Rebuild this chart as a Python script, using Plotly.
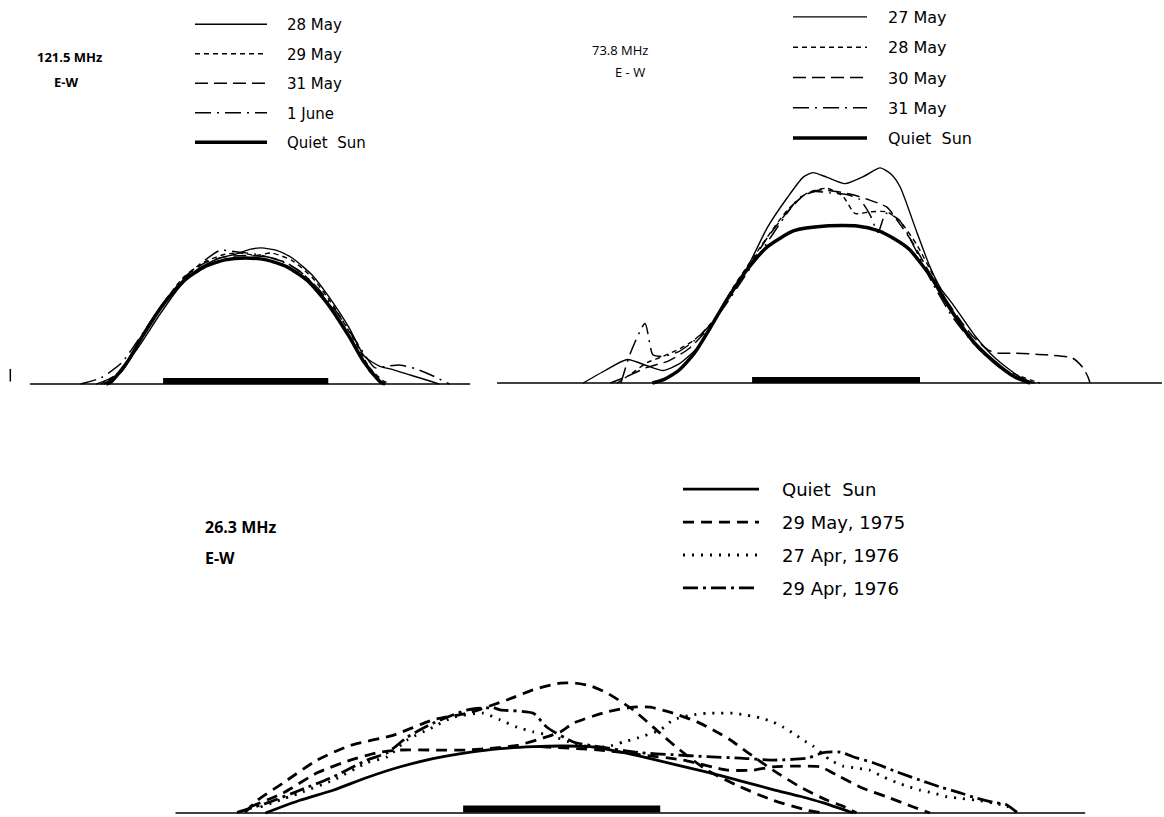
import plotly.graph_objects as go

# ---------------- Panel 1 : 121.5 MHz E-W (x: arcmin from centre, y: relative brightness) -------------
p1_qs_x = [-27, -26, -23, -20, -16, -12, -8, -4, 0, 4, 8, 12, 16, 20, 23, 26, 27]
p1_qs_y = [0, 0.02, 0.17, 0.38, 0.63, 0.82, 0.93, 0.985, 1.0, 0.985, 0.93, 0.82, 0.63, 0.38, 0.17, 0.02, 0]
p1_28may_x = [-29, -25, -21, -17, -13, -9, -5, -2, 1, 3, 6, 9, 13, 16, 20, 23, 26, 28, 32, 36, 37.5]
p1_28may_y = [0, 0.07, 0.28, 0.53, 0.76, 0.92, 1.0, 1.03, 1.07, 1.08, 1.06, 1.0, 0.86, 0.7, 0.45, 0.22, 0.14, 0.12, 0.07, 0.02, 0]
p1_29may_x = [-28, -24, -20, -16, -12, -8, -4, -1, 2, 5, 9, 13, 17, 21, 24, 26.5, 28]
p1_29may_y = [0, 0.11, 0.38, 0.64, 0.85, 0.97, 1.03, 1.04, 1.02, 1.04, 0.98, 0.84, 0.62, 0.35, 0.13, 0.03, 0]
p1_31may_x = [-27.5, -24, -20, -16, -12, -8, -4, 0, 4, 8, 12, 16, 20, 24, 27]
p1_31may_y = [0, 0.1, 0.37, 0.63, 0.84, 0.96, 1.01, 1.02, 1.01, 0.96, 0.84, 0.64, 0.39, 0.1, 0]
p1_1jun_x = [-32, -28, -24, -20, -16, -12, -8, -5, -2, 2, 6, 10, 14, 18, 22, 25, 27, 30, 33, 36, 39.5]
p1_1jun_y = [0, 0.05, 0.17, 0.4, 0.64, 0.84, 0.98, 1.06, 1.05, 1.03, 0.99, 0.91, 0.76, 0.55, 0.3, 0.13, 0.14, 0.15, 0.12, 0.07, 0]
p1_base_x = [-41.8, 43.5]
p1_tick_x = [-45.6, -45.6]
p1_tick_y = [0.02, 0.12]

# ---------------- Panel 2 : 73.8 MHz E-W -------------
p2_qs_x = [-35, -33, -30, -27, -24, -21, -17, -13, -8, -2, 4, 8, 11, 14, 18, 22, 26, 30, 34, 37]
p2_qs_y = [0, 0.02, 0.08, 0.19, 0.35, 0.52, 0.72, 0.87, 0.97, 1.0, 1.0, 0.97, 0.92, 0.85, 0.68, 0.46, 0.27, 0.14, 0.04, 0]
p2_27may_x = [-48.2, -44, -39.8, -36, -33, -30, -26, -21, -17, -13.1, -9.3, -6.3, -4.4, -1.7, 1.7, 5.5, 8.4,
              10.5, 12.2, 15.4, 17.9, 20, 22.3, 26.5, 30.3, 35, 37.9]
p2_27may_y = [0, 0.08, 0.15, 0.11, 0.08, 0.12, 0.24, 0.53, 0.73, 0.99, 1.18, 1.31, 1.34, 1.31, 1.27, 1.32, 1.37,
              1.33, 1.25, 0.96, 0.74, 0.6, 0.5, 0.3, 0.16, 0.04, 0]
p2_28may_x = [-41.7, -39, -36, -33, -29.7, -27.2, -24.6, -22.7, -19.6, -17, -13.1, -9.3, -5.5, -1.7, 1.3, 3.6,
              6.5, 9.7, 12.2, 15.4, 18.9, 22.7, 26.5, 31.2, 37, 38.9]
p2_28may_y = [0, 0.06, 0.13, 0.17, 0.22, 0.27, 0.35, 0.43, 0.61, 0.74, 0.93, 1.1, 1.21, 1.24, 1.19, 1.08,
              1.09, 1.09, 1.03, 0.88, 0.66, 0.42, 0.24, 0.1, 0.02, 0]
p2_30may_x = [-43, -40, -36, -32, -28, -24, -20, -17, -13, -9, -6, -3, 0, 3, 6, 9.7, 12, 14.5, 17, 20, 23,
              26, 29, 31, 34, 40, 45, 47, 48, 48.4]
p2_30may_y = [0, 0.04, 0.1, 0.14, 0.22, 0.36, 0.56, 0.72, 0.93, 1.1, 1.2, 1.23, 1.22, 1.2, 1.17, 1.12, 1.02,
              0.9, 0.75, 0.58, 0.43, 0.3, 0.21, 0.19, 0.19, 0.18, 0.16, 0.1, 0.04, 0]
p2_31may_x = [-41, -39.2, -36.4, -34.9, -33, -30, -27, -24, -21, -18, -14, -10, -7, -4, -1, 2, 4.5, 6.5, 8,
              9.5, 12, 15, 18, 22, 26, 30, 34, 37.5]
p2_31may_y = [0, 0.19, 0.38, 0.18, 0.17, 0.2, 0.27, 0.37, 0.5, 0.65, 0.85, 1.05, 1.18, 1.22, 1.21, 1.2, 1.17,
              1.07, 0.96, 1.08, 1.04, 0.86, 0.66, 0.43, 0.26, 0.13, 0.04, 0]
p2_base_x = [-64.6, 62.1]

# ---------------- Panel 3 : 26.3 MHz E-W -------------
p3_qs_x = [-48.1, -42.5, -37.1, -31.6, -26.2, -20.9, -15.3, -10.0, -4.6, -0.2, 4.6, 8.0, 12.7, 18.1, 23.6,
           29.0, 34.3, 38.7, 42.5, 47.3]
p3_qs_y = [0, 0.19, 0.34, 0.53, 0.69, 0.81, 0.90, 0.96, 0.99, 1.0, 0.99, 0.94, 0.85, 0.73, 0.61, 0.48, 0.35,
           0.25, 0.15, 0]
p3_may75a_x = [-51.4, -49.4, -45.2, -39.7, -34.3, -27.4, -20.9, -15.3, -8.8, -4.6, -0.2, 2.2, 4.6, 7.4, 11.6,
               16.0, 19.2, 23.6, 29.0, 34.3, 39.9, 42.5]
p3_may75a_y = [0.01, 0.19, 0.45, 0.79, 1.01, 1.16, 1.39, 1.49, 1.69, 1.84, 1.94, 1.94, 1.90, 1.79, 1.54, 1.19,
               0.94, 0.64, 0.39, 0.19, 0.04, 0]
p3_may75b_x = [-50.6, -45.2, -39.7, -34.3, -30.0, -26.2, -20.9, -15.3, -11.1, -7.2, -3.0, -0.2, 1.9, 7.4, 11.6,
               14.4, 18.1, 22.0, 24.6, 27.4, 30.1, 34.3, 38.7, 43.1, 45.7, 47.9]
p3_may75b_y = [0.09, 0.30, 0.60, 0.79, 0.90, 0.94, 0.94, 0.94, 0.97, 1.01, 1.12, 1.21, 1.34, 1.51, 1.58, 1.58,
               1.49, 1.36, 1.24, 1.09, 0.91, 0.64, 0.39, 0.19, 0.10, 0]
p3_may75c_x = [-3.5, 6.2, 12.7, 19.7, 26.9, 31.1, 34.3, 38.7, 42.0, 45.2, 48.9, 52.8, 57.1, 59.8]
p3_may75c_y = [0.99, 0.94, 0.87, 0.79, 0.64, 0.64, 0.69, 0.70, 0.69, 0.54, 0.37, 0.24, 0.09, 0]
p3_apr27_x = [-48.9, -42.5, -37.1, -31.6, -28.3, -25.1, -20.9, -17.6, -12.7, -10.0, -7.2, -4.6, -1.9, 1.9, 4.6,
              7.4, 10.0, 12.3, 16.0, 18.1, 20.9, 23.6, 25.7, 27.8, 30.1, 32.2, 34.3, 36.0, 37.6, 39.2, 40.8, 43.6,
              45.7, 47.9, 50.0, 52.2, 54.5, 56.1, 58.2, 60.3, 62.6, 64.7, 67.4, 70.0, 72.3, 73.9]
p3_apr27_y = [0.09, 0.30, 0.49, 0.75, 0.84, 1.09, 1.28, 1.43, 1.49, 1.39, 1.28, 1.21, 1.16, 1.04, 0.99,
              0.99, 1.06, 1.12, 1.24, 1.39, 1.46, 1.49, 1.49, 1.49, 1.46, 1.42, 1.36, 1.28, 1.19, 1.09, 1.0, 0.79,
              0.70, 0.67, 0.64, 0.54, 0.45, 0.40, 0.34, 0.30, 0.24, 0.22, 0.19, 0.15, 0.10, 0.01]
p3_apr29_x = [-52.7, -47.8, -42.5, -37.1, -31.6, -28.3, -25.1, -20.9, -15.3, -11.1, -10.0, -4.6, -2.4, 1.9, 4.6,
              12.7, 18.1, 23.6, 29.0, 34.3, 39.9, 42.5, 45.2, 47.3, 50.6, 54.5, 58.2, 61.4, 64.7, 67.4, 70.0,
              72.3, 73.9]
p3_apr29_y = [0.01, 0.15, 0.34, 0.54, 0.79, 0.90, 1.13, 1.34, 1.54, 1.57, 1.54, 1.49, 1.28, 1.06, 1.01,
              0.90, 0.87, 0.84, 0.82, 0.79, 0.82, 0.90, 0.91, 0.84, 0.75, 0.61, 0.49, 0.39, 0.30, 0.22, 0.16,
              0.12, 0.01]
p3_base_x = [-62.7, 85.0]

# optical disk marker (solar diameter, arcmin)
disk_x = [-16, 16]

FONT = "Open Sans"
LFONT = "DejaVu Sans"
SP = "\u2002\u2002"
fig = go.Figure()

def add(x, y, name, dash, width, xa, ya, legend, show=True, group=None):
    fig.add_trace(go.Scatter(
        x=x, y=y, mode="lines", name=SP + name, showlegend=show,
        line=dict(color="black", width=width, dash=dash, shape="spline", smoothing=0.6),
        xaxis=xa, yaxis=ya, legend=legend, legendgroup=group or (legend + name),
        hoverinfo="skip"))

def add_plain(x, y, width, xa, ya):
    fig.add_trace(go.Scatter(x=x, y=y, mode="lines", showlegend=False,
                             line=dict(color="black", width=width),
                             xaxis=xa, yaxis=ya, hoverinfo="skip"))

# panel 1
add_plain(p1_base_x, [0, 0], 1.5, "x", "y")
add_plain(disk_x, [0.025, 0.025], 6, "x", "y")
add_plain(p1_tick_x, p1_tick_y, 1.5, "x", "y")
add(p1_28may_x, p1_28may_y, "28 May", "solid", 1.4, "x", "y", "legend")
add(p1_29may_x, p1_29may_y, "29 May", "5px,4px", 1.4, "x", "y", "legend")
add(p1_31may_x, p1_31may_y, "31 May", "13px,6px", 1.5, "x", "y", "legend")
add(p1_1jun_x, p1_1jun_y, "1 June", "16px,6px,2px,6px", 1.5, "x", "y", "legend")
add(p1_qs_x, p1_qs_y, "Quiet  Sun", "solid", 3.5, "x", "y", "legend")

# panel 2
add_plain(p2_base_x, [0, 0], 1.5, "x2", "y2")
add_plain(disk_x, [0.02, 0.02], 6, "x2", "y2")
add(p2_27may_x, p2_27may_y, "27 May", "solid", 1.4, "x2", "y2", "legend2")
add(p2_28may_x, p2_28may_y, "28 May", "5px,4px", 1.4, "x2", "y2", "legend2")
add(p2_30may_x, p2_30may_y, "30 May", "13px,6px", 1.5, "x2", "y2", "legend2")
add(p2_31may_x, p2_31may_y, "31 May", "16px,6px,2px,6px", 1.5, "x2", "y2", "legend2")
add(p2_qs_x, p2_qs_y, "Quiet  Sun", "solid", 3.5, "x2", "y2", "legend2")

# panel 3
add_plain(p3_base_x, [0, 0], 1.5, "x3", "y3")
add_plain(disk_x, [0.06, 0.06], 7, "x3", "y3")
add(p3_qs_x, p3_qs_y, "Quiet  Sun", "solid", 2.8, "x3", "y3", "legend3")
add(p3_may75a_x, p3_may75a_y, "29 May, 1975", "11px,7px", 2.8, "x3", "y3", "legend3", group="may75")
add(p3_may75b_x, p3_may75b_y, "29 May, 1975", "11px,7px", 2.8, "x3", "y3", "legend3", show=False, group="may75")
add(p3_may75c_x, p3_may75c_y, "29 May, 1975", "11px,7px", 2.8, "x3", "y3", "legend3", show=False, group="may75")
add(p3_apr27_x, p3_apr27_y, "27 Apr, 1976", "2px,7px", 2.8, "x3", "y3", "legend3")
add(p3_apr29_x, p3_apr29_y, "29 Apr, 1976", "15px,5px,3px,5px", 2.8, "x3", "y3", "legend3")

W, H = 1164, 817
def px(v):
    return v / W
def py(v):
    return 1 - v / H

ax = dict(visible=False, showgrid=False, zeroline=False, fixedrange=True)
leg = dict(xanchor="left", yanchor="top", bgcolor="rgba(0,0,0,0)", traceorder="grouped",
           itemclick=False, itemdoubleclick=False)
fig.update_layout(
    width=W, height=H, margin=dict(l=0, r=0, t=0, b=0),
    paper_bgcolor="white", plot_bgcolor="white",
    font=dict(family=FONT, color="black"),
    xaxis=dict(ax, domain=[0, px(480)], range=[-47.6, 45.4]),
    yaxis=dict(ax, domain=[py(395), py(150)], range=[-0.087, 1.857]),
    xaxis2=dict(ax, domain=[px(485), 1], range=[-66.9, 62.5]),
    yaxis2=dict(ax, domain=[py(395), py(150)], range=[-0.076, 1.484]),
    xaxis3=dict(ax, domain=[0, 1], range=[-91.2, 97.8]),
    yaxis3=dict(ax, domain=[0, py(600)], range=[-0.06, 3.18]),
    legend=dict(leg, x=px(190), y=py(8), font=dict(size=15, family=LFONT), itemwidth=72,
                tracegroupgap=7),
    legend2=dict(leg, x=px(788), y=py(0), font=dict(size=16, family=LFONT), itemwidth=74,
                 tracegroupgap=6.5),
    legend3=dict(leg, x=px(678), y=py(471), font=dict(size=18, family=LFONT), itemwidth=76,
                 tracegroupgap=6.5),
    annotations=[
        dict(text="<b>121.5 MHz</b>", x=px(35), y=py(57), font=dict(size=13)),
        dict(text="<b>E-W</b>", x=px(52), y=py(82), font=dict(size=13)),
        dict(text="73.8 MHz", x=px(590), y=py(50), font=dict(size=13)),
        dict(text="E - W", x=px(613), y=py(72), font=dict(size=13)),
        dict(text="<b>26.3 MHz</b>", x=px(203), y=py(527), font=dict(size=16)),
        dict(text="<b>E-W</b>", x=px(203), y=py(558), font=dict(size=16)),
    ],
)
for a in fig.layout.annotations:
    a.update(xref="paper", yref="paper", xanchor="left", yanchor="middle", showarrow=False)

fig.write_html("out.html")
